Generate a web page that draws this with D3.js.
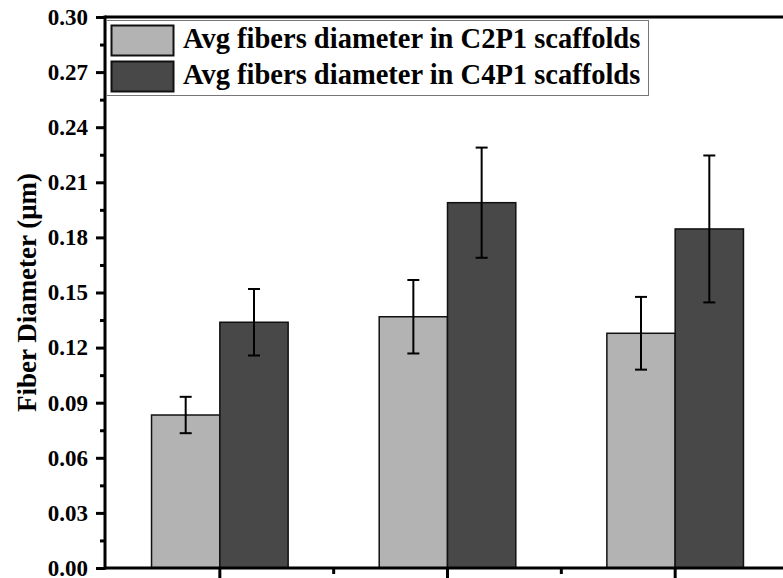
<!DOCTYPE html>
<html>
<head>
<meta charset="utf-8">
<script src="https://cdn.jsdelivr.net/npm/d3@7"></script>
<style>
  body { margin: 0; background: #fff; }
  svg { display: block; }
  svg text { font-family: "Liberation Serif", "Times New Roman", serif; font-weight: bold; }
</style>
</head>
<body>
<svg id="chart" width="783" height="578"></svg>
<script>
const categories = ["G1", "G2", "G3"];
const seriesNames = ["Avg fibers diameter in C2P1 scaffolds", "Avg fibers diameter in C4P1 scaffolds"];
const c2p1Mean = [0.0833, 0.1368, 0.1278];
const c2p1Err = [0.0099, 0.0200, 0.0198];
const c4p1Mean = [0.1338, 0.1989, 0.1846];
const c4p1Err = [0.0181, 0.0300, 0.0400];
const yTicks = [0, 0.03, 0.06, 0.09, 0.12, 0.15, 0.18, 0.21, 0.24, 0.27, 0.30];
const yMinorTicks = [0.015, 0.045, 0.075, 0.105, 0.135, 0.165, 0.195, 0.225, 0.255, 0.285];
const colors = ["#b3b3b3", "#484848"];

const margin = {top: 17, left: 106, bottom: 568, right: 789};
const svg = d3.select('#chart');

const x = d3.scaleBand().domain(categories).range([margin.left, margin.right]).padding(0);
const bw = x.bandwidth();
const barW = bw * 0.3;
const xs = d3.scaleBand().domain([0, 1]).range([bw / 2 - barW, bw / 2 + barW]);
const y = d3.scaleLinear().domain([0, 0.30]).range([margin.bottom, margin.top]);

const series = [
  {mean: c2p1Mean, err: c2p1Err},
  {mean: c4p1Mean, err: c4p1Err}
];

// bars
series.forEach((s, si) => {
  const rows = categories.map((c, i) => ({c, v: s.mean[i], e: s.err[i]}));
  const g = svg.append('g');
  g.selectAll('rect').data(rows).join('rect')
    .attr('x', d => x(d.c) + xs(si))
    .attr('y', d => y(d.v))
    .attr('width', xs.bandwidth())
    .attr('height', d => y(0) - y(d.v))
    .attr('fill', colors[si])
    .attr('stroke', '#111').attr('stroke-width', 1.5);
  const cx = d => x(d.c) + xs(si) + xs.bandwidth() / 2;
  g.selectAll('line.err').data(rows).join('line').attr('class', 'err')
    .attr('x1', cx).attr('x2', cx)
    .attr('y1', d => y(d.v + d.e)).attr('y2', d => y(d.v - d.e))
    .attr('stroke', '#000').attr('stroke-width', 2);
  [1, -1].forEach(sign => {
    g.selectAll('line.cap' + sign).data(rows).join('line')
      .attr('x1', d => cx(d) - 6).attr('x2', d => cx(d) + 6)
      .attr('y1', d => y(d.v + sign * d.e)).attr('y2', d => y(d.v + sign * d.e))
      .attr('stroke', '#000').attr('stroke-width', 2);
  });
});

// y axis
const yAxis = svg.append('g').attr('transform', `translate(${margin.left - 1},0)`)
  .call(d3.axisLeft(y).tickValues(yTicks).tickFormat(d3.format('.2f')).tickSize(9).tickPadding(8));
yAxis.select('.domain').remove();
yAxis.selectAll('.tick line').attr('stroke', '#000').attr('stroke-width', 3);
yAxis.selectAll('.tick text').attr('fill', '#000')
  .style('font-family', '"Liberation Serif", serif').style('font-size', '23px').style('font-weight', 'bold');
const yMinor = svg.append('g').attr('transform', `translate(${margin.left - 1},0)`)
  .call(d3.axisLeft(y).tickValues(yMinorTicks).tickFormat('').tickSize(5));
yMinor.select('.domain').remove();
yMinor.selectAll('.tick line').attr('stroke', '#000').attr('stroke-width', 3);

// x axis
const xAxis = svg.append('g').attr('transform', `translate(0,${margin.bottom})`)
  .call(d3.axisBottom(x).tickFormat('').tickSize(12));
xAxis.select('.domain').remove();
xAxis.selectAll('.tick line').attr('stroke', '#000').attr('stroke-width', 3);
const xMinorVals = categories.slice(1).map(c => x(c));
svg.append('g').selectAll('line').data(xMinorVals).join('line')
  .attr('x1', d => d).attr('x2', d => d)
  .attr('y1', margin.bottom).attr('y2', margin.bottom + 6)
  .attr('stroke', '#000').attr('stroke-width', 3);

// frame
svg.append('line').attr('x1', margin.left - 1).attr('x2', 783).attr('y1', margin.bottom).attr('y2', margin.bottom)
  .attr('stroke', '#000').attr('stroke-width', 3);
svg.append('line').attr('x1', margin.left - 1).attr('x2', 783).attr('y1', margin.top).attr('y2', margin.top)
  .attr('stroke', '#000').attr('stroke-width', 3);
svg.append('line').attr('x1', margin.left - 1).attr('x2', margin.left - 1).attr('y1', margin.top - 1.5).attr('y2', margin.bottom + 1.5)
  .attr('stroke', '#000').attr('stroke-width', 3);

// y label
svg.append('text')
  .attr('transform', `translate(30,${(margin.top + margin.bottom) / 2}) rotate(-90)`)
  .attr('text-anchor', 'middle').attr('dominant-baseline', 'middle')
  .attr('font-size', 27).text('Fiber Diameter (μm)');

// legend
const lg = svg.append('g');
lg.append('rect').attr('x', 106.5).attr('y', 20.5).attr('width', 542).attr('height', 75)
  .attr('fill', '#fff').attr('stroke', '#777').attr('stroke-width', 1);
seriesNames.forEach((name, i) => {
  lg.append('rect').attr('x', 111.5).attr('y', 25.5 + i * 36).attr('width', 62).attr('height', 30)
    .attr('fill', colors[i]).attr('stroke', '#111').attr('stroke-width', 2);
  lg.append('text').attr('x', 183).attr('y', 41 + i * 36).attr('dominant-baseline', 'middle')
    .attr('font-size', 28.5).text(name);
});
</script>
</body>
</html>
